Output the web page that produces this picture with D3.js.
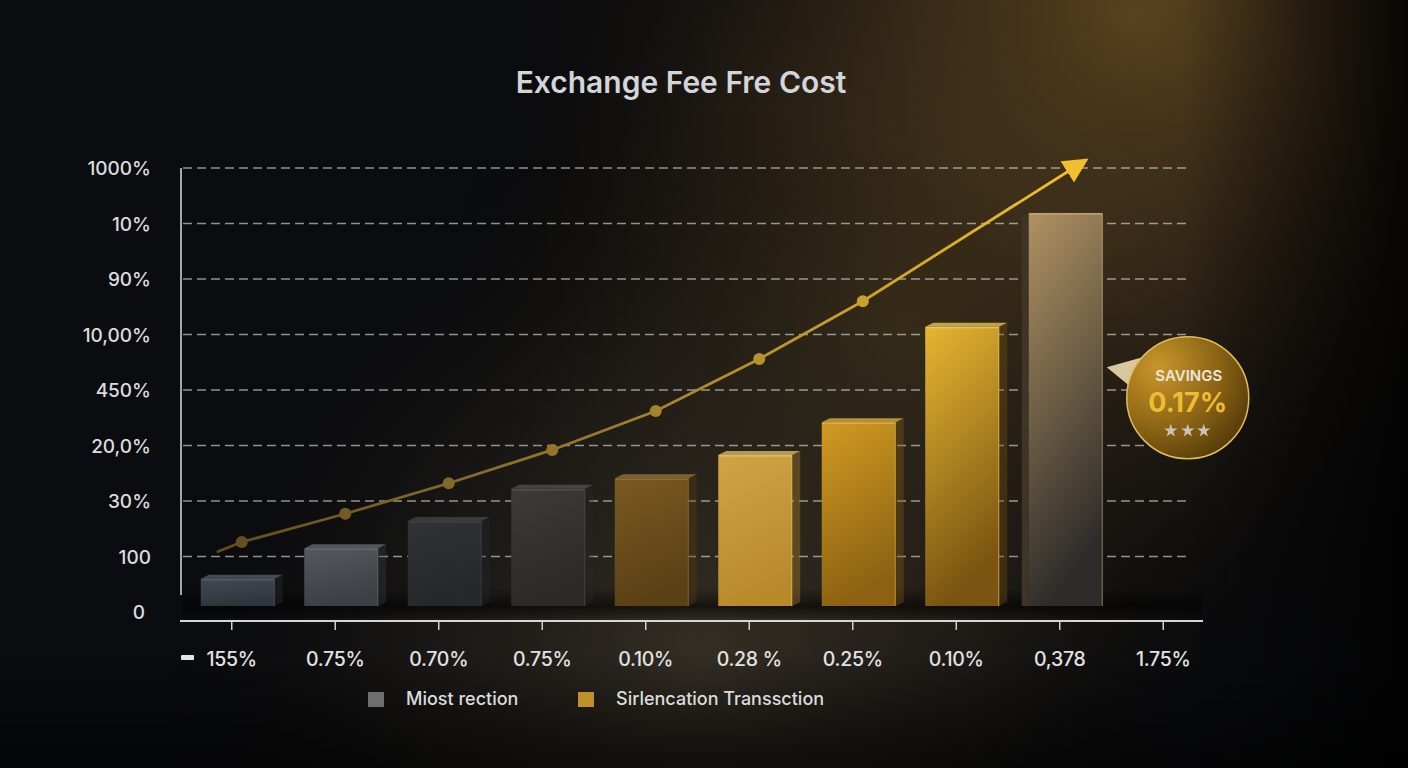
<!DOCTYPE html>
<html>
<head>
<meta charset="utf-8">
<script src="https://cdn.jsdelivr.net/npm/d3@7/dist/d3.min.js"></script>
<style>
  html, body { margin: 0; padding: 0; background: #0b0c10; }
  svg { display: block; }
</style>
</head>
<body>
<svg id="chart" width="1408" height="768"></svg>
<script>
// ---------- DATA ----------
const title = "Exchange Fee Fre Cost";
const categories = ["155%", "0.75%", "0.70%", "0.75%", "0.10%", "0.28 %", "0.25%", "0.10%", "0,378", "1.75%"];
const yTickLabels = ["0", "100", "30%", "20,0%", "450%", "10,00%", "90%", "10%", "1000%"];
const barValues = [0.6, 1.15, 1.64, 2.22, 2.41, 2.83, 3.42, 5.14, 7.19];
const lineValues = [1.26, 1.77, 2.32, 2.92, 3.62, 4.56, 5.60];
const lineStart = { i: -0.24, v: 1.08 };
const lineEnd = { i: 8.12, v: 8.1 };
const legendLabels = ["Miost rection", "Sirlencation Transsction"];
const savingsLabel = "SAVINGS";
const savingsValue = "0.17%";

// ---------- STYLE ----------
const barPalette = [
  ["#434a55", "#2f343c", "#5a606a"],
  ["#55595f", "#3c3f44", "#6a6d72"],
  ["#303236", "#25272a", "#45474b"],
  ["#3d3b39", "#2c2a28", "#55524e"],
  ["#7a5a22", "#5a4015", "#9a7838"],
  ["#d0a445", "#b88a2c", "#e2c070"],
  ["#d09a22", "#8c6212", "#e2b448"],
  ["#e6b532", "#7a5410", "#f0cc60"],
  ["#b09262", "#2e2c2a", "#c8a878"]
];
const legendColors = ["#6e6e6e", "#c0902a"];

const svg = d3.select("#chart");
const W = 1408, H = 768;
const defs = svg.append("defs");

// ---------- BACKGROUND ----------
svg.append("rect").attr("width", W).attr("height", H).attr("fill", "#0b0c0f");

function radial(id, cx, cy, r, stops) {
  const g = defs.append("radialGradient").attr("id", id)
    .attr("gradientUnits", "userSpaceOnUse")
    .attr("cx", cx).attr("cy", cy).attr("r", r);
  stops.forEach(s => g.append("stop").attr("offset", s[0]).attr("stop-color", s[1]).attr("stop-opacity", s[2]));
  return "url(#" + id + ")";
}
svg.append("rect").attr("width", W).attr("height", H)
  .attr("fill", radial("glowTR", 1130, 20, 700, [[0, "#7a5a26", 0.8], [0.3, "#5e4420", 0.6], [0.65, "#2a2014", 0.3], [1, "#000", 0]]));
svg.append("rect").attr("width", W).attr("height", H)
  .attr("fill", radial("glowMid", 900, 330, 480, [[0, "#5a4622", 0.6], [0.6, "#2e2414", 0.3], [1, "#000", 0]]));
svg.append("rect").attr("width", W).attr("height", H)
  .attr("fill", radial("glowBot", 700, 660, 560, [[0, "#4a4030", 0.65], [0.5, "#2a251d", 0.45], [1, "#000", 0]]));
const vg = defs.append("linearGradient").attr("id", "vigR").attr("x1", 0).attr("x2", 1).attr("y1", 0).attr("y2", 0);
vg.append("stop").attr("offset", 0.84).attr("stop-color", "#000").attr("stop-opacity", 0);
vg.append("stop").attr("offset", 1).attr("stop-color", "#000").attr("stop-opacity", 0.8);
svg.append("rect").attr("width", W).attr("height", H).attr("fill", "url(#vigR)");
const vb = defs.append("linearGradient").attr("id", "vigB").attr("x1", 0).attr("x2", 0).attr("y1", 0).attr("y2", 1);
vb.append("stop").attr("offset", 0.85).attr("stop-color", "#000").attr("stop-opacity", 0);
vb.append("stop").attr("offset", 1).attr("stop-color", "#000").attr("stop-opacity", 0.6);
svg.append("rect").attr("width", W).attr("height", H).attr("fill", "url(#vigB)");

// ---------- SCALES ----------
const y = d3.scaleLinear().domain([0, 8]).range([612, 168]);
const x = d3.scaleBand().domain(d3.range(categories.length)).range([180, 1215]).paddingInner(0).paddingOuter(0);
const xc = i => x(0) + x.bandwidth() / 2 + i * x.step();
const barW = 74, barShift = 6, depthX = 8, depthY = 4;
const lineShift = 10;

// ---------- TITLE ----------
svg.append("text").attr("x", 681).attr("y", 93).attr("text-anchor", "middle")
  .attr("font-family", "Inter, 'Open Sans', sans-serif").attr("font-weight", 600)
  .attr("font-size", 30).attr("fill", "#d2d5d9").text(title);

// ---------- GRID ----------
const gridVals = d3.range(1, 9);
svg.append("g").selectAll("line").data(gridVals).join("line")
  .attr("x1", 183).attr("x2", 1190)
  .attr("y1", d => y(d)).attr("y2", d => y(d))
  .attr("stroke", "#c9c9c9").attr("stroke-opacity", 0.7)
  .attr("stroke-width", 1.3).attr("stroke-dasharray", "9,5");

svg.append("line").attr("x1", 181).attr("x2", 181).attr("y1", y(8)).attr("y2", 595)
  .attr("stroke", "#cfcfcf").attr("stroke-width", 1.6);

const yAxis = d3.axisLeft(y).tickValues(d3.range(0, 9)).tickFormat(d => yTickLabels[d]).tickSize(0).tickPadding(0);
const yg = svg.append("g").attr("transform", "translate(151,0)").call(yAxis);
yg.select(".domain").remove();
yg.selectAll("text").attr("font-family", "Inter, 'Open Sans', sans-serif").attr("font-size", 19)
  .attr("font-weight", 500).attr("fill", "#dadcde").attr("dy", "0.35em");
yg.selectAll(".tick").filter(d => d === 0).select("text").attr("transform", "translate(-6,0)");

const fl = defs.append("linearGradient").attr("id", "floor").attr("x1", 0).attr("x2", 0).attr("y1", 0).attr("y2", 1);
fl.append("stop").attr("offset", 0).attr("stop-color", "#000").attr("stop-opacity", 0);
fl.append("stop").attr("offset", 0.6).attr("stop-color", "#000").attr("stop-opacity", 0.55);
fl.append("stop").attr("offset", 1).attr("stop-color", "#000").attr("stop-opacity", 0.1);
svg.append("rect").attr("x", 182).attr("y", 588).attr("width", 1020).attr("height", 30).attr("fill", "url(#floor)");

// ---------- BARS ----------
barValues.forEach((v, i) => {
  const p = barPalette[i];
  const g = defs.append("linearGradient").attr("id", "bar" + i).attr("x1", 0).attr("x2", 0.25).attr("y1", 0).attr("y2", 1);
  g.append("stop").attr("offset", 0).attr("stop-color", p[0]);
  g.append("stop").attr("offset", 1).attr("stop-color", p[1]);
});
const bars = svg.append("g");
barValues.forEach((v, i) => {
  const p = barPalette[i];
  const x0 = xc(i) + barShift - barW / 2;
  const top = y(v), bot = y(0) - 6;
  const last = i === barValues.length - 1;
  if (last) {
    bars.append("polygon")
      .attr("points", [[x0 - 7, top + 3], [x0, top], [x0, bot], [x0 - 7, bot]].map(q => q.join(",")).join(" "))
      .attr("fill", "#3e3528");
  }
  bars.append("rect").attr("x", x0).attr("y", top).attr("width", barW).attr("height", bot - top)
    .attr("fill", "url(#bar" + i + ")");
  if (!last) {
    bars.append("polygon")
      .attr("points", [[x0, top], [x0 + depthX, top - depthY], [x0 + barW + depthX, top - depthY], [x0 + barW, top]].map(q => q.join(",")).join(" "))
      .attr("fill", p[2]).attr("opacity", 0.75);
    bars.append("polygon")
      .attr("points", [[x0 + barW, top], [x0 + barW + depthX, top - depthY], [x0 + barW + depthX, bot - depthY], [x0 + barW, bot]].map(q => q.join(",")).join(" "))
      .attr("fill", p[1]).attr("opacity", 0.35);
  }
  bars.append("line").attr("x1", x0 + 1).attr("x2", x0 + barW - 1).attr("y1", top + 1).attr("y2", top + 1)
    .attr("stroke", p[2]).attr("stroke-width", 1.2);
  bars.append("line").attr("x1", x0 + barW - 0.5).attr("x2", x0 + barW - 0.5).attr("y1", top).attr("y2", bot)
    .attr("stroke", p[2]).attr("stroke-opacity", 0.6).attr("stroke-width", 1);
});

// ---------- X AXIS ----------
svg.append("line").attr("x1", 180).attr("x2", 1203).attr("y1", 621).attr("y2", 621)
  .attr("stroke", "#d6d6d6").attr("stroke-width", 2);
const xAxis = d3.axisBottom(x).tickFormat(i => categories[i]).tickSize(9).tickPadding(22);
const xg = svg.append("g").attr("transform", "translate(0,621)").call(xAxis);
xg.select(".domain").remove();
xg.selectAll("line").attr("stroke", "#d0d0d0").attr("stroke-width", 1.5);
xg.selectAll("text").attr("font-family", "Inter, 'Open Sans', sans-serif").attr("font-size", 19.5)
  .attr("font-weight", 500).attr("fill", "#e2e2e2").attr("letter-spacing", "-0.3");
svg.append("rect").attr("x", 181).attr("y", 655).attr("width", 13).attr("height", 5).attr("rx", 1)
  .attr("fill", "#e4e4e4");

// ---------- LINE ----------
const lg = defs.append("linearGradient").attr("id", "lineGrad").attr("gradientUnits", "userSpaceOnUse")
  .attr("x1", 200).attr("x2", 1080).attr("y1", 0).attr("y2", 0);
lg.append("stop").attr("offset", 0).attr("stop-color", "#5e4a1e");
lg.append("stop").attr("offset", 0.45).attr("stop-color", "#9a7a2a");
lg.append("stop").attr("offset", 1).attr("stop-color", "#f0c030");
defs.append("marker").attr("id", "arrow").attr("viewBox", "0 0 10 10").attr("refX", 7).attr("refY", 5)
  .attr("markerWidth", 9).attr("markerHeight", 9).attr("markerUnits", "strokeWidth").attr("orient", "auto")
  .append("path").attr("d", "M0,0 L10,5 L0,10 Z").attr("fill", "#f0c030");

const linePts = [[lineStart.i, lineStart.v]].concat(lineValues.map((v, i) => [i, v])).concat([[lineEnd.i, lineEnd.v]]);
const lineGen = d3.line().x(d => xc(d[0]) + lineShift).y(d => y(d[1]));
svg.append("path").datum(linePts).attr("d", lineGen).attr("fill", "none")
  .attr("stroke", "url(#lineGrad)").attr("stroke-width", 2.8).attr("marker-end", "url(#arrow)");
svg.append("g").selectAll("circle").data(lineValues).join("circle")
  .attr("cx", (d, i) => xc(i) + lineShift).attr("cy", d => y(d)).attr("r", 6)
  .attr("fill", "url(#lineGrad)");

// ---------- SAVINGS BADGE ----------
const lastI = barValues.length - 1;
const bx = xc(lastI) + barShift + barW / 2;
const cx = bx + 85, cy = y(3.86), r = 61;
const bg = radial("badgeGrad", cx - 30, cy - 30, 110, [[0, "#c8962a", 1], [0.55, "#8c6414", 1], [1, "#4e3608", 1]]);
svg.append("polygon")
  .attr("points", [[bx + 4, y(4.41)], [cx - 40, cy - 42], [cx - 50, cy - 5]].map(q => q.join(",")).join(" "))
  .attr("fill", "#d8c8a0");
svg.append("circle").attr("cx", cx).attr("cy", cy).attr("r", r).attr("fill", bg)
  .attr("stroke", "#e0bc60").attr("stroke-width", 1.5);
svg.append("text").attr("x", cx + 1).attr("y", cy - 17).attr("text-anchor", "middle")
  .attr("font-family", "Inter, 'Open Sans', sans-serif").attr("font-weight", 600).attr("font-size", 15)
  .attr("fill", "#ece6dc").text(savingsLabel);
svg.append("text").attr("x", cx).attr("y", cy + 14).attr("text-anchor", "middle")
  .attr("font-family", "Inter, 'Open Sans', sans-serif").attr("font-weight", 700).attr("font-size", 27)
  .attr("fill", "#eebc34").text(savingsValue);
const star = d3.symbol().type(d3.symbolStar).size(55);
[-17, 0, 16].forEach(dx => {
  svg.append("path").attr("d", star).attr("transform", `translate(${cx + dx},${cy + 33})`).attr("fill", "#c8c4bc");
});

// ---------- LEGEND ----------
const legX = [368, 578];
legendLabels.forEach((t, i) => {
  svg.append("rect").attr("x", legX[i]).attr("y", 692).attr("width", 16).attr("height", 15)
    .attr("fill", legendColors[i]);
  svg.append("text").attr("x", legX[i] + 38).attr("y", 705)
    .attr("font-family", "Inter, 'Open Sans', sans-serif").attr("font-size", 18).attr("font-weight", 500)
    .attr("fill", "#dcdcdc").text(t);
});
</script>
</body>
</html>
